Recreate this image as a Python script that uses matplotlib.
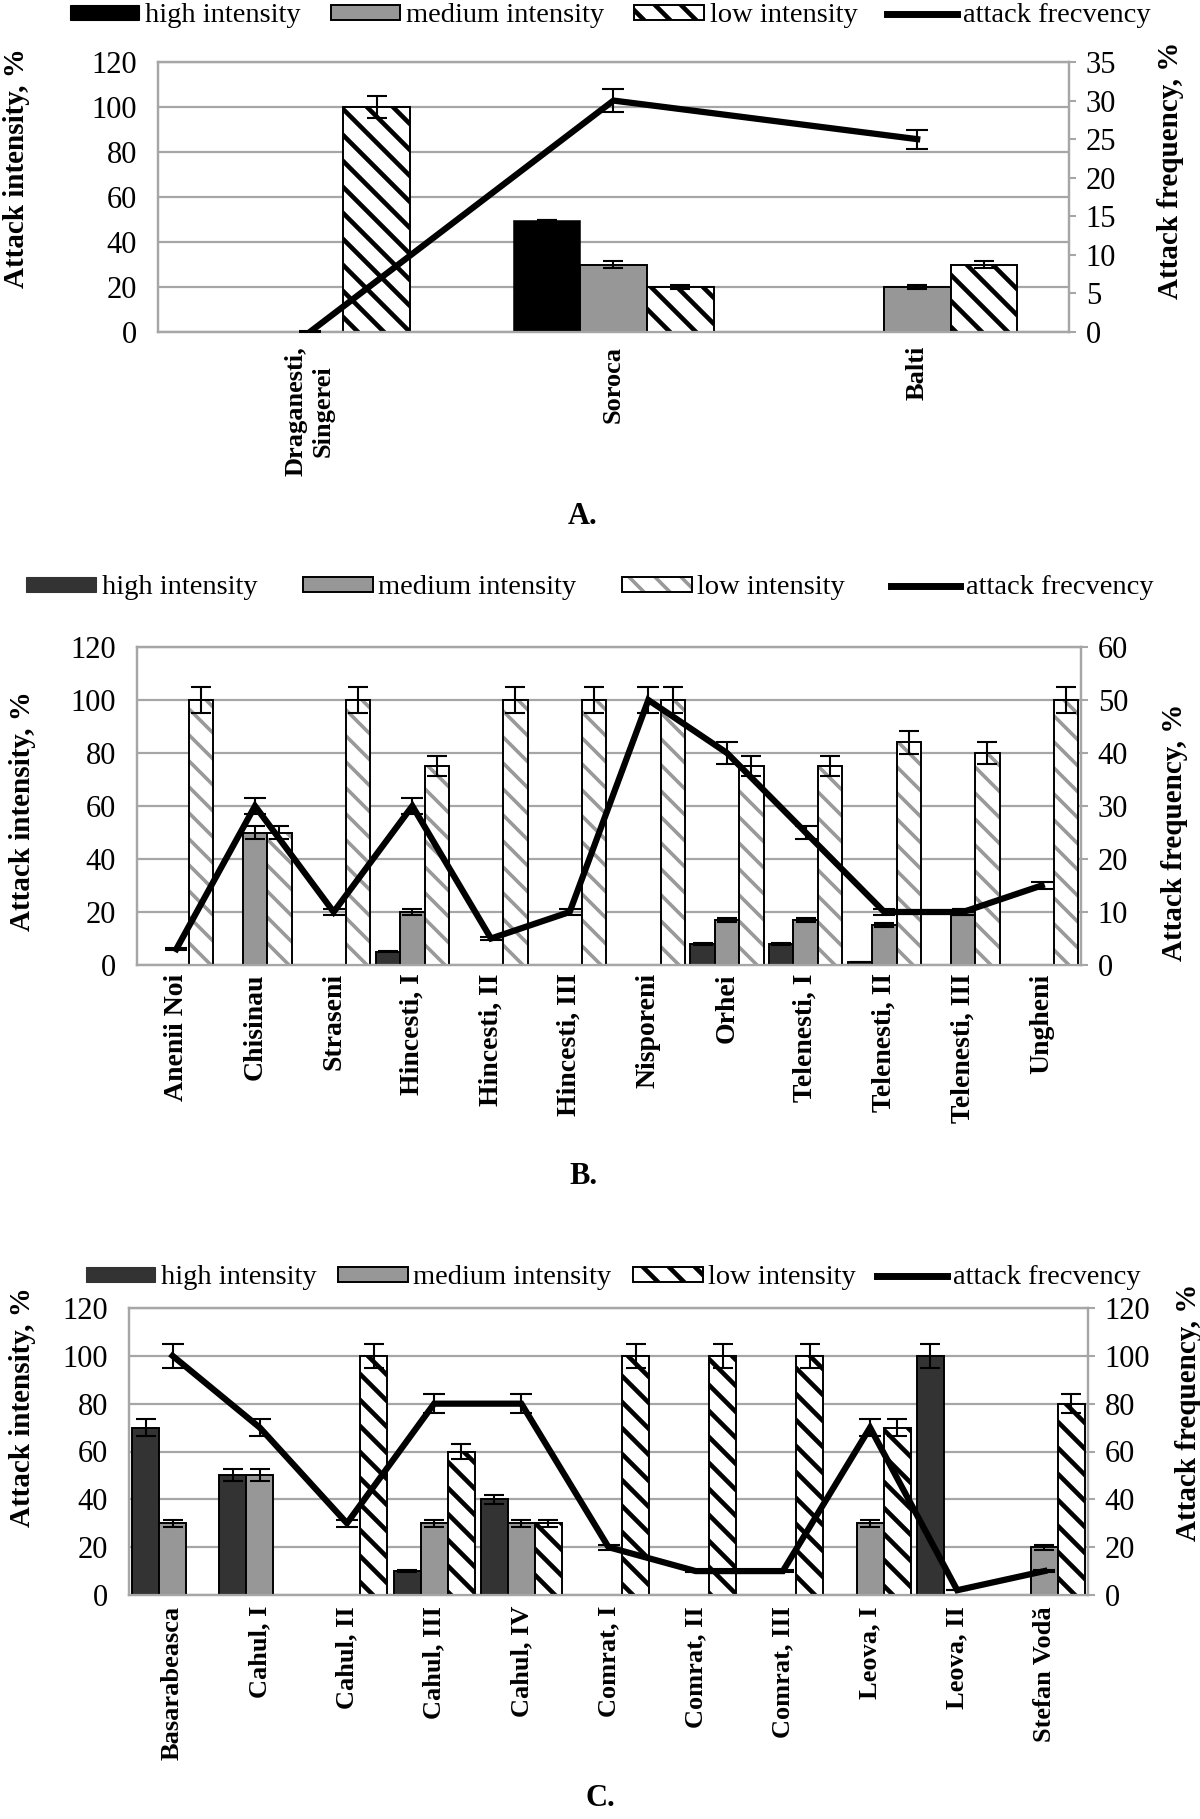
import numpy as np
import matplotlib
matplotlib.use('Agg')
import matplotlib.pyplot as plt
from matplotlib.patches import Patch
from matplotlib.lines import Line2D
from matplotlib.legend_handler import HandlerTuple

plt.rcParams['font.family'] = ['Liberation Serif', 'DejaVu Serif']

# ---------------- data ----------------
legend_labels = ['high intensity', 'medium intensity', 'low intensity', 'attack frecvency']

# Panel A
a_categories = ['Draganesti,\nSingerei', 'Soroca', 'Balti']
a_high = [0, 50, 0]
a_medium = [0, 30, 20]
a_low = [100, 20, 30]
a_freq = [0, 30, 25]
a_high_err = [0, 0, 0]
a_medium_err = [0, 1.5, 1]
a_low_err = [5, 1, 1.5]
a_freq_err = [0.1, 1.5, 1.25]
a_right_ticks = [0, 5, 10, 15, 20, 25, 30, 35]

# Panel B
b_categories = ['Anenii Noi', 'Chisinau', 'Straseni', 'Hincesti, I', 'Hincesti, II',
                'Hincesti, III', 'Nisporeni', 'Orhei', 'Telenesti, I', 'Telenesti, II',
                'Telenesti, III', 'Ungheni']
b_high = [0, 0, 0, 5, 0, 0, 0, 8, 8, 1, 0, 0]
b_medium = [0, 50, 0, 20, 0, 0, 0, 17, 17, 15, 20, 0]
b_low = [100, 50, 100, 75, 100, 100, 100, 75, 75, 84, 80, 100]
b_freq = [3, 30, 10, 30, 5, 10, 50, 40, 25, 10, 10, 15]
b_high_err = [0, 0, 0, 0.25, 0, 0, 0, 0.4, 0.4, 0.05, 0, 0]
b_medium_err = [0, 2.5, 0, 1, 0, 0, 0, 0.85, 0.85, 0.75, 1, 0]
b_low_err = [5, 2.5, 5, 3.75, 5, 5, 5, 3.75, 3.75, 4.2, 4, 5]
b_freq_err = [0.15, 1.5, 0.5, 1.5, 0.25, 0.5, 2.5, 2, 1.25, 0.5, 0.5, 0.75]
b_right_ticks = [0, 10, 20, 30, 40, 50, 60]

# Panel C
c_categories = ['Basarabeasca', 'Cahul, I', 'Cahul, II', 'Cahul, III', 'Cahul, IV',
                'Comrat, I', 'Comrat, II', 'Comrat, III', 'Leova, I', 'Leova, II',
                'Stefan Vodă']
c_high = [70, 50, 0, 10, 40, 0, 0, 0, 0, 100, 0]
c_medium = [30, 50, 0, 30, 30, 0, 0, 0, 30, 0, 20]
c_low = [0, 0, 100, 60, 30, 100, 100, 100, 70, 0, 80]
c_freq = [100, 70, 30, 80, 80, 20, 10, 10, 70, 2, 10]
c_high_err = [3.5, 2.5, 0, 0.5, 2, 0, 0, 0, 0, 5, 0]
c_medium_err = [1.5, 2.5, 0, 1.5, 1.5, 0, 0, 0, 1.5, 0, 1]
c_low_err = [0, 0, 5, 3, 1.5, 5, 5, 5, 3.5, 0, 4]
c_freq_err = [5, 3.5, 1.5, 4, 4, 1, 0.5, 0.5, 3.5, 0.1, 0.5]
c_right_ticks = [0, 20, 40, 60, 80, 100, 120]

left_ticks = [0, 20, 40, 60, 80, 100, 120]

# ---------------- figure ----------------
W, H = 1200, 1819
DPI = 78            # lower dpi -> denser hatch pattern (like the reference)
K = 100.0 / DPI     # keep sizes as if drawn at 100 dpi
fig = plt.figure(figsize=(W / DPI, H / DPI), dpi=DPI)

GRID = '#a6a6a6'
MED = '#979797'
EDGE_LW = 1.4 * K


def rect(left, top, right, bottom):
    return [left / W, 1 - bottom / H, (right - left) / W, (bottom - top) / H]


def draw_bars(ax, x, vals, errs, offset, bw, **kw):
    idx = [i for i, v in enumerate(vals) if v > 0]
    xs = [x[i] + offset for i in idx]
    vs = [vals[i] for i in idx]
    es = [errs[i] for i in idx]
    bars = ax.bar(xs, vs, bw, zorder=3, **kw)
    return xs, vs, es, bars


def ebar(ax, xs, vs, es):
    ax.errorbar(xs, vs, yerr=es, fmt='none', ecolor='black', elinewidth=1.5 * K,
                capsize=7.5 * K, capthick=1.5 * K, zorder=5)


def panel(box, cats, high, med, low, freq, high_err, med_err, low_err, freq_err,
          rticks, bw, high_color, hatch_color, hatch_px, xlab_size, xlab_pad,
          leg_center, leg_colsp, title, title_pos, ylab_l, ylab_r):
    hatch_lw = hatch_px * 72.0 / DPI
    plt.rcParams['hatch.linewidth'] = hatch_lw
    ax = fig.add_axes(rect(*box))
    n = len(cats)
    x = np.arange(n)
    ax.set_xlim(-0.5, n - 0.5)
    ax.set_ylim(0, 120)
    ax.set_yticks(left_ticks)
    ax.set_axisbelow(True)
    ax.yaxis.grid(True, color=GRID, lw=1.6 * K)
    for s in ax.spines.values():
        s.set_color(GRID)
        s.set_linewidth(1.6 * K)

    # high
    xs, vs, es, _ = draw_bars(ax, x, high, high_err, -bw, bw, color=high_color,
                              edgecolor='black',
                              linewidth=EDGE_LW if high_color != 'black' else 0.5)
    ebar(ax, xs, vs, es)
    # medium
    xs, vs, es, _ = draw_bars(ax, x, med, med_err, 0, bw, color=MED,
                              edgecolor='black', linewidth=EDGE_LW)
    ebar(ax, xs, vs, es)
    # low (hatched)
    xs, vs, es, hb = draw_bars(ax, x, low, low_err, bw, bw, color='white',
                               edgecolor=hatch_color, hatch='\\', linewidth=0)
    for p in hb:
        try:
            p.set_hatch_linewidth(hatch_lw)
        except Exception:
            pass
    draw_bars(ax, x, low, low_err, bw, bw, fill=False, edgecolor='black',
              linewidth=EDGE_LW)
    ebar(ax, xs, vs, es)

    ax.set_xticks(x)
    ax.set_xticklabels(cats, rotation=90, fontweight='bold', fontsize=xlab_size * K)
    ax.tick_params(axis='x', length=0, pad=xlab_pad * K)
    ax.tick_params(axis='y', length=0, pad=15 * K, labelsize=22 * K)

    ax2 = ax.twinx()
    ax2.set_ylim(0, rticks[-1])
    ax2.set_yticks(rticks)
    ax2.tick_params(axis='y', length=5 * K, width=1.5 * K, color=GRID, pad=7 * K,
                    labelsize=22 * K)
    for s in ax2.spines.values():
        s.set_color(GRID)
        s.set_linewidth(1.6 * K)
    ax2.errorbar(x, freq, yerr=freq_err, color='black', lw=4.5 * K, ecolor='black',
                 elinewidth=1.5 * K, capsize=8 * K, capthick=1.5 * K, zorder=6,
                 solid_joinstyle='miter')

    # legend
    hatch_patch = Patch(facecolor='white', edgecolor=hatch_color, hatch='\\', linewidth=0)
    try:
        hatch_patch.set_hatch_linewidth(hatch_lw)
    except Exception:
        pass
    handles = [Patch(facecolor=high_color, edgecolor=high_color),
               Patch(facecolor=MED, edgecolor='black', linewidth=EDGE_LW),
               (hatch_patch, Patch(fill=False, edgecolor='black', linewidth=EDGE_LW)),
               Line2D([], [], color='black', lw=5 * K)]
    fig.legend(handles, legend_labels, loc='center',
               bbox_to_anchor=(leg_center[0] / W, 1 - leg_center[1] / H),
               ncol=4, frameon=False, fontsize=20.5 * K, handlelength=2.45,
               handleheight=0.45, handletextpad=0.2, columnspacing=leg_colsp,
               borderaxespad=0, borderpad=0,
               handler_map={tuple: HandlerTuple(ndivide=1)})

    fig.text(title_pos[0] / W, 1 - title_pos[1] / H, title, ha='center', va='center',
             fontsize=22 * K, fontweight='bold')
    fig.text(ylab_l[0] / W, 1 - ylab_l[1] / H, 'Attack intensity, %', rotation=90,
             ha='center', va='center', fontsize=21 * K, fontweight='bold')
    fig.text(ylab_r[0] / W, 1 - ylab_r[1] / H, 'Attack frequency, %', rotation=90,
             ha='center', va='center', fontsize=21 * K, fontweight='bold')


panel((158, 62, 1069, 332), a_categories, a_high, a_medium, a_low, a_freq,
      a_high_err, a_medium_err, a_low_err, a_freq_err, a_right_ticks,
      0.22, 'black', 'black', 4.6, 19, 10,
      (610, 16), 1.05, 'A.', (583, 516), (17, 168), (1170, 170))

panel((137, 647, 1081, 965), b_categories, b_high, b_medium, b_low, b_freq,
      b_high_err, b_medium_err, b_low_err, b_freq_err, b_right_ticks,
      0.31, '#333333', '#999999', 3.6, 20, 6,
      (590, 588), 1.6, 'B.', (583, 1177), (23, 811), (1175, 832))

panel((129, 1308, 1088, 1595), c_categories, c_high, c_medium, c_low, c_freq,
      c_high_err, c_medium_err, c_low_err, c_freq_err, c_right_ticks,
      0.31, '#333333', 'black', 4.6, 19, 8,
      (613, 1278), 0.75, 'C.', (600, 1799), (23, 1407), (1188, 1412))

fig.savefig('out.png', dpi=DPI)
